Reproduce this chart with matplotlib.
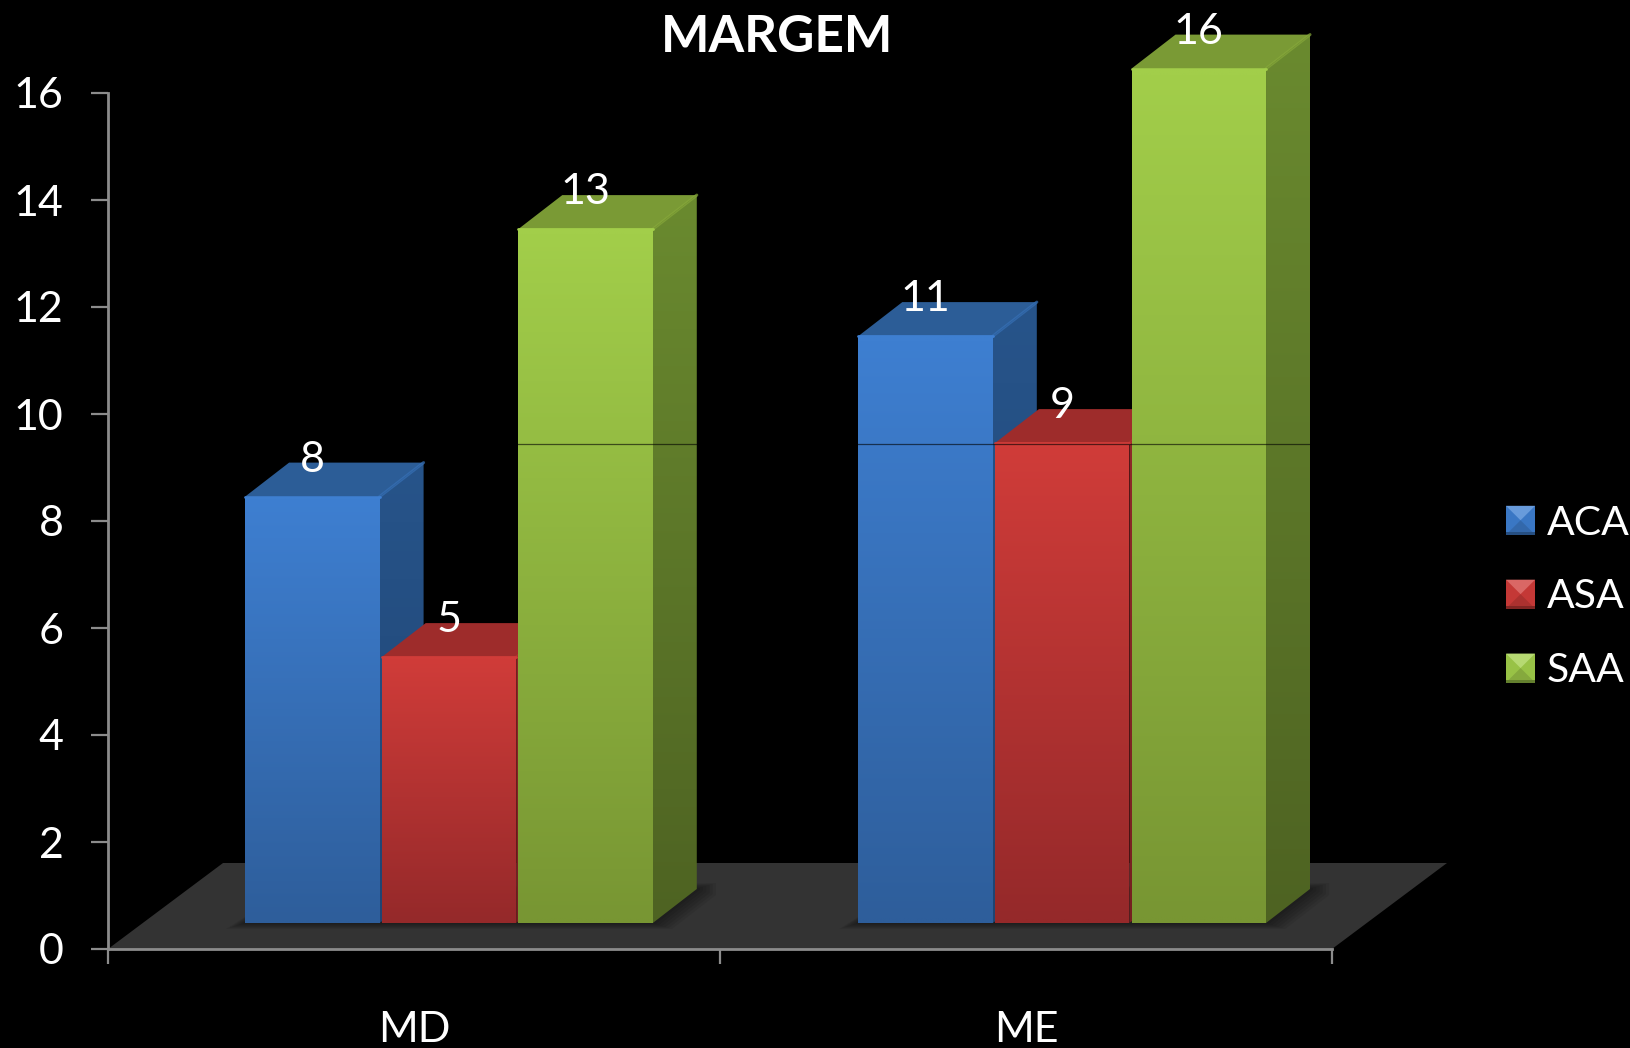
import numpy as np
import matplotlib
matplotlib.use('Agg')
import matplotlib.pyplot as plt
from matplotlib.colors import to_rgb
from matplotlib.legend_handler import HandlerBase
from matplotlib.patches import Patch, Polygon

plt.rcParams['font.family'] = ['Lato', 'DejaVu Sans']

# ── data ─────────────────────────────────────────────
title = "MARGEM"
categories = ["MD", "ME"]
series_names = ["ACA", "ASA", "SAA"]
aca = [8, 11]
asa = [5, 9]
saa = [13, 16]
yticks = [0, 2, 4, 6, 8, 10, 12, 14, 16]

# ── style: front top, front bottom, side top, side bottom, top face, edge ──
styles = [
    ("#3E7FD1", "#2E5E9B", "#27548A", "#1F4472", "#2C5D97", "#3670B6"),
    ("#D03C39", "#95292A", "#8F2A2A", "#752020", "#9E2C2B", "#B53432"),
    ("#A2CE4A", "#789633", "#6A8A2F", "#4E6322", "#7A9A35", "#86A83A"),
]

# pixel scale of the axes, everything else hangs off this
PX_X = 612.0     # px per category
PX_Y = 53.5      # px per y unit
X0, Y0 = 108, 949
W, H = 1630, 1048

BAR_W = 134.5 / PX_X
PITCH = 136.6 / PX_X
GROUP_LEFT = [0.224, 1.226]
BASE = 26 / PX_Y            # front faces stand a bit in from the axis
DX = 44 / PX_X              # bar depth
DY = 34 / PX_Y
FLOOR_DX = 115 / PX_X
FLOOR_DY = 86 / PX_Y


def gradient(c1, c2):
    a, b = np.array(to_rgb(c1)), np.array(to_rgb(c2))
    t = np.linspace(0, 1, 64)[:, None, None]
    return a + (b - a) * t


def shaded_poly(ax, pts, c1, c2, z):
    """polygon filled with a vertical gradient"""
    pts = np.array(pts)
    ext = (pts[:, 0].min(), pts[:, 0].max(), pts[:, 1].min(), pts[:, 1].max())
    im = ax.imshow(gradient(c1, c2), extent=ext, aspect='auto', origin='upper',
                   interpolation='bilinear', zorder=z)
    clip = Polygon(pts, transform=ax.transData, fc='none', ec='none')
    im.set_clip_path(clip)


class BevelHandler(HandlerBase):
    """little pyramid swatch, like the office legend keys"""
    def create_artists(self, legend, orig, xd, yd, w, h, fontsize, trans):
        x0, y0 = -xd, -yd
        x1, y1 = x0 + w, y0 + h
        cx, cy = (x0 + x1) / 2, (y0 + y1) / 2
        base = np.array(to_rgb(orig.get_facecolor()))
        light = base + (1 - base) * 0.22
        dark = base * 0.82
        faces = [
            ([(x0, y0), (x1, y0), (x1, y1), (x0, y1)], base * 0.94),
            ([(x0, y1), (x1, y1), (cx, cy)], light),
            ([(x0, y0), (x1, y0), (cx, cy)], dark),
            ([(x0, y0), (x1, y0), (x1, y0 + h * 0.1), (x0, y0 + h * 0.1)], base * 0.62),
        ]
        return [Polygon(p, fc=c, ec='none', transform=trans) for p, c in faces]


fig = plt.figure(figsize=(W / 100, H / 100), dpi=100, facecolor='black')
ax = fig.add_axes([0, 0, 1, 1], facecolor='black')

# floor
floor = [(0, 0), (2, 0), (2 + FLOOR_DX, FLOOR_DY), (FLOOR_DX, FLOOR_DY)]
ax.add_patch(Polygon(floor, fc="#333333", ec='none', zorder=1))

# soft shadow round the foot of each group
for g in range(len(categories)):
    l = GROUP_LEFT[g]
    r = l + 2 * PITCH + BAR_W
    for k in range(1, 7):
        sx = k * 3.2 / PX_X
        sy = k * 1.0 / PX_Y
        foot = [(l - sx, BASE - sy), (r + sx, BASE - sy),
                (r + DX + sx, BASE + DY - sy), (r + DX + sx, BASE + DY + sy),
                (l + DX, BASE + DY)]
        ax.add_patch(Polygon(foot, fc='black', ec='none', alpha=0.07, zorder=2))

# bars, left to right so each front covers the neighbour's side
z = 3
for g in range(len(categories)):
    for s, values in enumerate([aca, asa, saa]):
        ft, fb, st, sb, tp, edge = styles[s]
        l = GROUP_LEFT[g] + s * PITCH
        r = l + BAR_W
        bot = BASE
        top = BASE + values[g] - 0.03

        side = [(r, bot), (r + DX, bot + DY), (r + DX, top + DY), (r, top)]
        shaded_poly(ax, side, st, sb, z)
        roof = [(l, top), (r, top), (r + DX, top + DY), (l + DX, top + DY)]
        ax.add_patch(Polygon(roof, fc=tp, ec='none', zorder=z + 1))
        ax.plot([r, r + DX], [top, top + DY], color=edge, lw=2.2, alpha=0.7,
                zorder=z + 1, solid_capstyle='round')
        front = [(l, bot), (r, bot), (r, top), (l, top)]
        shaded_poly(ax, front, ft, fb, z + 2)
        ax.plot([l, r], [top, top], color=ft, lw=2.0, zorder=z + 2,
                solid_capstyle='round')
        ax.text((l + r) / 2, top + 37 / PX_Y, str(values[g]), color='white',
                fontsize=31, ha='center', va='center', zorder=50)
        z += 3

# stray hairline that runs across the picture
ax.axhline((Y0 - 444) / PX_Y, color='black', alpha=0.6, lw=0.9, zorder=40)

ax.set_xlim(-X0 / PX_X, (W - X0) / PX_X)
ax.set_ylim(-(H - Y0) / PX_Y, Y0 / PX_Y)

# axes
for side_name in ['top', 'right']:
    ax.spines[side_name].set_visible(False)
ax.spines['left'].set_position(('data', 0))
ax.spines['bottom'].set_position(('data', 0))
ax.spines['left'].set_bounds(0, 16)
ax.spines['bottom'].set_bounds(0, 2)
for sp in ['left', 'bottom']:
    ax.spines[sp].set_color("#8C8C8C")
    ax.spines[sp].set_linewidth(2.0)
    ax.spines[sp].set_zorder(45)

ax.set_yticks(yticks)
ax.tick_params(axis='y', length=12, width=1.6, color="#8C8C8C", pad=20,
               labelcolor='white', labelsize=31)
ax.set_xticks([0, 1, 2], labels=[])
ax.tick_params(axis='x', length=11, width=1.6, color="#8C8C8C")
ax.set_xticks([0.5, 1.5], labels=categories, minor=True)
ax.tick_params(axis='x', which='minor', length=0, pad=45, labelcolor='white',
               labelsize=31)

fig.text(777 / W, 1 - 37 / H, title, color='white', fontsize=37,
         fontweight='bold', ha='center', va='center')

# legend
handles = [Patch(facecolor=st[0]) for st in styles]
ax.legend(handles, series_names, handler_map={Patch: BevelHandler()},
          loc='center left', bbox_to_anchor=(1506 / W, 1 - 597 / H),
          bbox_transform=fig.transFigure, frameon=False, fontsize=29.5,
          labelcolor='white', handlelength=0.71, handleheight=0.71,
          handletextpad=0.28, labelspacing=0.9, borderpad=0, borderaxespad=0)

fig.savefig("out.png", dpi=100, facecolor='black')
